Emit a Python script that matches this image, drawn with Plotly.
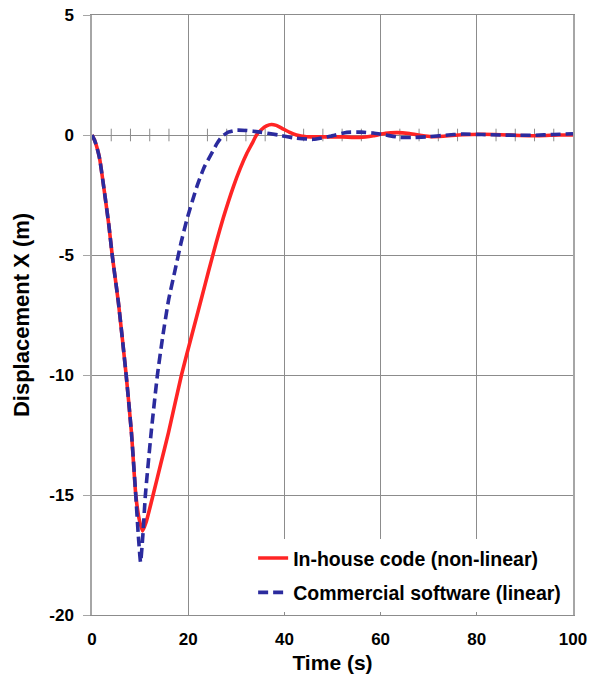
import plotly.graph_objects as go

# Shared initial descent (both models agree until about -15 m)
t_descent = [0, 0.5, 1, 1.6, 2.6, 3.5, 4.2, 5.5, 7.1, 8.2, 9.1]
x_descent = [0, -0.2, -0.5, -1.0, -2.4, -3.75, -5.0, -7.0, -10.0, -12.4, -15.0]

# In-house code (non-linear)
t_inhouse = t_descent + [9.8, 10.5, 11.3, 12.7, 14.3, 15.9, 18.6, 20.8, 22.9, 24.2,
                         25.8, 27.3, 29.4, 30.8, 32.2, 33.3, 34.2, 35.2, 36.3, 37.3,
                         38.3, 39.5, 41, 42.5, 44.6, 48, 52, 55.7, 58.5, 61,
                         63.5, 66, 68.5, 70.5, 73, 77, 81, 85, 89, 93, 97, 100]
x_inhouse = x_descent + [-16.0, -16.5, -16.1, -15.0, -13.7, -12.4, -10.0, -8.3, -6.7, -5.7,
                         -4.5, -3.45, -2.15, -1.4, -0.76, -0.35, 0.0, 0.22, 0.38, 0.44,
                         0.4, 0.28, 0.12, 0.0, -0.07, -0.08, -0.08, -0.1, -0.03, 0.07,
                         0.1, 0.06, -0.02, -0.07, -0.05, 0.01, 0.03, 0.01, -0.02, -0.03, 0.0, 0.0]

# Commercial software (linear)
t_commercial = t_descent + [9.6, 10.1, 10.6, 11.1, 12.3, 13.6, 14.7, 15.9, 17.3, 18.5,
                            19.7, 21.8, 23.3, 24.9, 26, 27, 28.3, 30, 32, 35,
                            38.7, 42, 46, 49.5, 53, 56, 58.5, 61, 64, 67,
                            70, 73.5, 77, 81, 85, 88.5, 92, 96, 100]
x_commercial = x_descent + [-16.6, -17.8, -16.6, -15.0, -12.4, -10.0, -8.4, -6.9, -5.6, -4.5,
                            -3.54, -2.15, -1.35, -0.76, -0.35, -0.07, 0.12, 0.2, 0.19, 0.12,
                            0.0, -0.12, -0.18, -0.05, 0.11, 0.12, 0.08, 0.0, -0.1, -0.1,
                            -0.07, -0.01, 0.04, 0.02, 0.0, -0.01, -0.01, 0.02, 0.05]

x_ticks = [0, 20, 40, 60, 80, 100]
y_ticks = [5, 0, -5, -10, -15, -20]
y_ticktext = ["5", "0", "-5", "-10", "-15", "-20"]
# minor tick marks along the zero line
zero_minor_ticks = [4, 8, 12, 16, 24, 28, 32, 36, 44, 48, 52, 56,
                    64, 68, 72, 76, 84, 88, 92, 96]

FONT = "Liberation Sans, Arial, sans-serif"
GRID = "#8c8c8c"
AXIS = "#a6a6a6"

fig = go.Figure()
fig.add_trace(go.Scatter(
    x=zero_minor_ticks, y=[0] * len(zero_minor_ticks), mode="markers",
    marker=dict(symbol="line-ns", size=9, line=dict(color=GRID, width=1)),
    showlegend=False, hoverinfo="skip",
))
fig.add_trace(go.Scatter(
    x=t_inhouse, y=x_inhouse, mode="lines", name="In-house code (non-linear)",
    line=dict(color="#ff2424", width=3.6, shape="spline", smoothing=0.5), legendgroup="a",
))
fig.add_trace(go.Scatter(
    x=t_commercial, y=x_commercial, mode="lines", name="Commercial software (linear)",
    line=dict(color="#2b2b9e", width=3.6, dash="10px,5px", shape="spline", smoothing=0.5),
    legendgroup="b",
))

tick_font = dict(family=FONT, size=17, color="black", weight="bold")

fig.update_layout(
    width=593, height=684,
    margin=dict(l=92, r=20, t=15, b=69, autoexpand=False),
    paper_bgcolor="white", plot_bgcolor="white",
    font=dict(family=FONT, color="black"),
    xaxis=dict(
        range=[0, 100], tickvals=x_ticks, showgrid=True, gridcolor=GRID, gridwidth=1,
        showline=True, linecolor=GRID, linewidth=1, mirror=True, zeroline=False,
        ticks="", tickfont=tick_font, ticklabelstandoff=9, automargin=False,
        title=dict(text="Time (s)", font=dict(family=FONT, size=21, color="black", weight="bold"),
                   standoff=6),
    ),
    yaxis=dict(
        range=[-20, 5], tickvals=y_ticks, ticktext=y_ticktext,
        showgrid=True, gridcolor=GRID, gridwidth=1,
        showline=True, linecolor=AXIS, linewidth=1.5, mirror=True,
        zeroline=True, zerolinecolor=GRID, zerolinewidth=1,
        ticks="outside", ticklen=7, tickcolor=AXIS, tickfont=tick_font, ticklabelstandoff=6,
        automargin=False,
        title=dict(text="Displacement X (m)",
                   font=dict(family=FONT, size=22, color="black", weight="bold"), standoff=14),
    ),
    legend=dict(
        x=0.335, xanchor="left", y=0.127, yanchor="top",
        bgcolor="white", borderwidth=0, tracegroupgap=6,
        font=dict(family=FONT, size=19.5, color="black", weight="bold"),
    ),
    showlegend=True,
)

fig.write_html("out.html")
